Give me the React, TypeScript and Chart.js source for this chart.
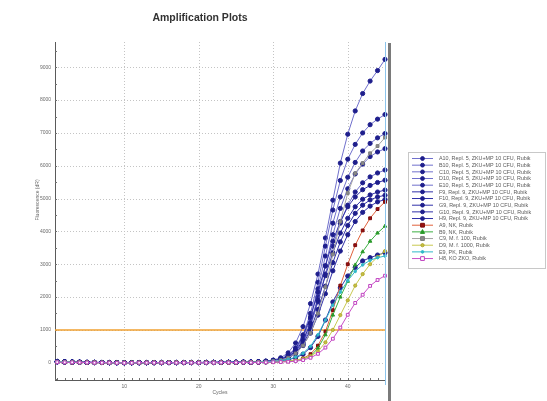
import React, { useEffect, useRef } from "react";
import { Chart, registerables } from "chart.js";

Chart.register(...registerables);

const cycles = [1, 2, 3, 4, 5, 6, 7, 8, 9, 10, 11, 12, 13, 14, 15, 16, 17, 18, 19, 20, 21, 22, 23, 24, 25, 26, 27, 28, 29, 30, 31, 32, 33, 34, 35, 36, 37, 38, 39, 40, 41, 42, 43, 44, 45];

const a10 = [40, 30, 20, 15, 10, 10, 5, 5, 0, 0, 0, 0, 0, 5, 5, 5, 0, 0, 5, 5, 5, 10, 10, 10, 15, 15, 20, 30, 50, 80, 150, 300, 600, 1100, 1800, 2700, 3800, 4950, 6080, 6960, 7670, 8200, 8580, 8900, 9240];
const b10 = [35, 25, 20, 15, 10, 5, 5, 5, 0, 0, 0, 5, 5, 0, 0, 5, 5, 5, 5, 5, 10, 10, 10, 10, 15, 15, 20, 30, 45, 70, 120, 230, 450, 850, 1500, 2450, 3550, 4650, 5550, 6200, 6650, 7000, 7250, 7420, 7560];
const c10 = [30, 25, 15, 10, 10, 5, 5, 0, 0, 0, 0, 0, 5, 5, 5, 0, 0, 5, 5, 5, 5, 10, 10, 10, 10, 15, 15, 25, 40, 60, 100, 190, 380, 750, 1350, 2250, 3250, 4250, 5050, 5650, 6100, 6450, 6680, 6850, 6980];
const d10 = [30, 20, 15, 10, 5, 5, 5, 0, 0, 0, 5, 5, 5, 0, 0, 0, 5, 5, 5, 5, 5, 5, 10, 10, 10, 10, 15, 20, 35, 55, 90, 170, 330, 650, 1200, 2000, 2950, 3900, 4700, 5300, 5750, 6050, 6280, 6420, 6520];
const e10 = [25, 20, 15, 10, 5, 5, 5, 0, 0, 0, 0, 0, 0, 5, 5, 5, 5, 5, 5, 5, 5, 10, 10, 10, 10, 10, 15, 20, 30, 50, 85, 160, 310, 600, 1100, 1850, 2700, 3550, 4250, 4800, 5200, 5480, 5660, 5780, 5870];
const f9 = [40, 30, 25, 20, 15, 10, 10, 5, 5, 5, 0, 0, 0, 0, 5, 5, 5, 5, 5, 5, 10, 10, 10, 15, 15, 20, 20, 25, 40, 65, 110, 210, 420, 820, 1400, 2150, 2950, 3700, 4300, 4750, 5050, 5270, 5400, 5490, 5560];
const f10 = [35, 30, 20, 15, 10, 10, 5, 5, 5, 0, 0, 0, 0, 5, 5, 5, 5, 5, 5, 5, 10, 10, 10, 10, 15, 15, 15, 20, 35, 55, 95, 180, 350, 680, 1200, 1900, 2650, 3350, 3950, 4400, 4750, 4980, 5110, 5200, 5260];
const g9 = [30, 25, 20, 15, 10, 5, 5, 5, 0, 0, 0, 0, 0, 0, 5, 5, 5, 5, 5, 5, 5, 10, 10, 10, 10, 15, 15, 20, 30, 50, 80, 150, 290, 560, 1000, 1620, 2330, 3050, 3680, 4180, 4550, 4800, 4960, 5050, 5100];
const g10 = [30, 20, 15, 10, 10, 5, 5, 0, 0, 0, 0, 5, 5, 5, 5, 5, 5, 5, 5, 5, 5, 5, 10, 10, 10, 10, 15, 20, 30, 45, 75, 140, 270, 520, 900, 1450, 2100, 2800, 3400, 3900, 4300, 4580, 4770, 4900, 4970];
const h9 = [25, 20, 15, 10, 5, 5, 5, 0, 0, 0, 0, 0, 0, 0, 5, 5, 5, 5, 5, 5, 5, 5, 5, 10, 10, 10, 10, 15, 25, 40, 60, 90, 150, 260, 460, 800, 1300, 1850, 2280, 2640, 2900, 3100, 3200, 3280, 3350];
const a9 = [20, 15, 10, 10, 5, 5, 0, 0, 0, 0, 0, 0, 0, 0, 0, 5, 5, 5, 5, 5, 5, 5, 5, 5, 5, 10, 10, 10, 15, 20, 30, 45, 70, 130, 260, 520, 950, 1600, 2350, 3000, 3580, 4030, 4400, 4680, 4900];
const b9 = [20, 15, 10, 5, 5, 5, 0, 0, 0, 0, 0, 0, 0, 0, 5, 5, 5, 5, 5, 5, 5, 5, 5, 5, 5, 10, 10, 10, 15, 20, 30, 45, 70, 110, 200, 440, 850, 1450, 2000, 2480, 2980, 3380, 3700, 3950, 4160];
const c9 = [30, 25, 15, 10, 10, 5, 5, 0, 0, 0, 0, 0, 5, 5, 5, 5, 5, 5, 5, 5, 5, 10, 10, 10, 10, 15, 15, 20, 30, 50, 80, 150, 280, 520, 900, 1500, 2300, 3300, 4300, 5170, 5770, 6080, 6380, 6600, 6860];
const d9 = [20, 15, 10, 10, 5, 5, 0, 0, 0, 0, 0, 0, 0, 5, 5, 5, 5, 5, 5, 5, 5, 5, 5, 5, 5, 10, 10, 10, 15, 20, 30, 45, 70, 120, 200, 340, 620, 1000, 1450, 1900, 2350, 2700, 3000, 3220, 3400];
const e9 = [25, 20, 15, 10, 5, 5, 5, 0, 0, 0, 0, 0, 0, 0, 5, 5, 5, 5, 5, 5, 5, 5, 5, 10, 10, 10, 10, 15, 25, 40, 60, 100, 170, 290, 500, 850, 1300, 1750, 2150, 2500, 2780, 2980, 3120, 3200, 3250];
const h8 = [15, 10, 10, 5, 5, 0, 0, 0, -5, -5, -5, 0, 0, 0, 0, 0, 0, 0, 0, 0, 0, 0, 5, 5, 5, 5, 5, 5, 10, 15, 20, 30, 45, 80, 150, 270, 460, 730, 1070, 1460, 1820, 2070, 2340, 2520, 2650];

const seriesNames = [
  "A10, Repl. 5, ZKU+MP 10 CFU, Rubik",
  "B10, Repl. 5, ZKU+MP 10 CFU, Rubik",
  "C10, Repl. 5, ZKU+MP 10 CFU, Rubik",
  "D10, Repl. 5, ZKU+MP 10 CFU, Rubik",
  "E10, Repl. 5, ZKU+MP 10 CFU, Rubik",
  "F9, Repl. 9, ZKU+MP 10 CFU, Rubik",
  "F10, Repl. 9, ZKU+MP 10 CFU, Rubik",
  "G9, Repl. 9, ZKU+MP 10 CFU, Rubik",
  "G10, Repl. 9, ZKU+MP 10 CFU, Rubik",
  "H9, Repl. 9, ZKU+MP 10 CFU, Rubik",
  "A9, NK, Rubik",
  "B9, NK, Rubik",
  "C9, M. f. 100, Rubik",
  "D9, M. f. 1000, Rubik",
  "E9, PK, Rubik",
  "H8, KO ZKO, Rubik",
];
const seriesValues = [a10, b10, c10, d10, e10, f9, f10, g9, g10, h9, a9, b9, c9, d9, e9, h8];

const yTickValues = [0, 1000, 2000, 3000, 4000, 5000, 6000, 7000, 8000, 9000];
const xTickLabels = [10, 20, 30, 40];
const thresholdValue = 1000;

const titleText = "Amplification Plots";
const xTitle = "Cycles";
const yTitle = "Fluorescence (dR)";

// styles
const lineColors = ["#7070cc", "#7070cc", "#7070cc", "#7070cc", "#7070cc", "#3030a8", "#3030a8", "#3030a8", "#3030a8", "#3030a8", "#e0603a", "#3cb043", "#a4a4a4", "#c8c850", "#30b8c8", "#c850c8"];
const markerFill = ["#1e1e8c", "#1e1e8c", "#1e1e8c", "#1e1e8c", "#1e1e8c", "#1e1e8c", "#1e1e8c", "#1e1e8c", "#1e1e8c", "#1e1e8c", "#9a1010", "#2a9a2a", "#8c8c8c", "#c8c040", "#30b8c8", "#ffffff"];
const markerBorder = ["#1e1e8c", "#1e1e8c", "#1e1e8c", "#1e1e8c", "#1e1e8c", "#1e1e8c", "#1e1e8c", "#1e1e8c", "#1e1e8c", "#1e1e8c", "#7a0a0a", "#2a9a2a", "#7c7c7c", "#b0a830", "#30b8c8", "#c040c0"];
const markerStyles = ["circle", "circle", "circle", "circle", "circle", "circle", "circle", "circle", "circle", "circle", "rect", "triangle", "rect", "circle", "circle", "rect"];
const markerRadius = [2.1, 2.1, 2.1, 2.1, 2.1, 2.1, 2.1, 2.1, 2.1, 2.1, 2.0, 2.0, 2.0, 1.6, 1.3, 2.0];

const FONT = "'Liberation Sans', Arial, sans-serif";

function drawMarker(ctx: CanvasRenderingContext2D, style: string, x: number, y: number, r: number, fill: string, stroke: string) {
  ctx.save();
  ctx.fillStyle = fill;
  ctx.strokeStyle = stroke;
  ctx.lineWidth = 1;
  ctx.beginPath();
  if (style === "circle") {
    ctx.arc(x, y, r, 0, Math.PI * 2);
  } else if (style === "rect") {
    ctx.rect(x - r, y - r, r * 2, r * 2);
  } else if (style === "triangle") {
    ctx.moveTo(x, y - r * 1.2);
    ctx.lineTo(x + r * 1.1, y + r * 0.8);
    ctx.lineTo(x - r * 1.1, y + r * 0.8);
    ctx.closePath();
  }
  ctx.fill();
  ctx.stroke();
  ctx.restore();
}

const extrasPlugin = {
  id: "extras",
  beforeDatasetsDraw(chart: any) {
    const ctx: CanvasRenderingContext2D = chart.ctx;
    const xs = chart.scales.x;
    const ys = chart.scales.y;
    const area = chart.chartArea;
    ctx.save();
    ctx.strokeStyle = "#c4c4c4";
    ctx.lineWidth = 1;
    ctx.setLineDash([1, 2]);
    for (const v of yTickValues) {
      const py = Math.round(ys.getPixelForValue(v)) + 0.5;
      ctx.beginPath();
      ctx.moveTo(area.left, py);
      ctx.lineTo(area.right, py);
      ctx.stroke();
    }
    for (const v of xTickLabels) {
      const px = Math.round(xs.getPixelForValue(v)) + 0.5;
      ctx.beginPath();
      ctx.moveTo(px, area.top);
      ctx.lineTo(px, area.bottom);
      ctx.stroke();
    }
    ctx.setLineDash([]);
    // minor ticks
    ctx.strokeStyle = "#707070";
    for (const c of cycles) {
      const px = Math.round(xs.getPixelForValue(c)) + 0.5;
      ctx.beginPath();
      ctx.moveTo(px, area.bottom);
      ctx.lineTo(px, area.bottom - 2);
      ctx.stroke();
    }
    for (let v = -500; v <= 9500; v += 500) {
      const py = Math.round(ys.getPixelForValue(v)) + 0.5;
      if (py < area.top || py > area.bottom) continue;
      ctx.beginPath();
      ctx.moveTo(area.left, py);
      ctx.lineTo(area.left + 2, py);
      ctx.stroke();
    }
    // threshold
    const ty = ys.getPixelForValue(thresholdValue);
    ctx.strokeStyle = "#f0a030";
    ctx.lineWidth = 1.5;
    ctx.beginPath();
    ctx.moveTo(area.left, ty);
    ctx.lineTo(area.right, ty);
    ctx.stroke();
    ctx.restore();
  },
  afterDraw(chart: any) {
    const ctx: CanvasRenderingContext2D = chart.ctx;
    const area = chart.chartArea;
    ctx.save();
    // right edge lines
    ctx.strokeStyle = "#8cc4ec";
    ctx.lineWidth = 1;
    ctx.beginPath();
    ctx.moveTo(area.right + 0.5, area.top);
    ctx.lineTo(area.right + 0.5, area.bottom + 5);
    ctx.stroke();
    ctx.fillStyle = "#7a7a7a";
    ctx.fillRect(area.right + 3, area.top + 1, 3, 401 - area.top);

    // title
    ctx.fillStyle = "#333333";
    ctx.font = `bold 10.5px ${FONT}`;
    ctx.textAlign = "center";
    ctx.textBaseline = "middle";
    ctx.fillText(titleText, 200, 18);

    // axis titles
    ctx.fillStyle = "#666666";
    ctx.font = `5px ${FONT}`;
    ctx.fillText(xTitle, (area.left + area.right) / 2, 393);
    ctx.save();
    ctx.translate(38, 200);
    ctx.rotate(-Math.PI / 2);
    ctx.fillText(yTitle, 0, 0);
    ctx.restore();

    // legend
    const bx = 408.5, by = 152.5, bw = 137, bh = 116;
    ctx.fillStyle = "#ffffff";
    ctx.fillRect(bx, by, bw, bh);
    ctx.strokeStyle = "#c8c8c8";
    ctx.lineWidth = 1;
    ctx.strokeRect(bx, by, bw, bh);
    ctx.font = `5.4px ${FONT}`;
    ctx.textAlign = "left";
    ctx.textBaseline = "middle";
    seriesNames.forEach((name, i) => {
      const yy = 158.5 + i * 6.67;
      ctx.strokeStyle = lineColors[i];
      ctx.lineWidth = 1;
      ctx.beginPath();
      ctx.moveTo(412, yy);
      ctx.lineTo(433, yy);
      ctx.stroke();
      drawMarker(ctx, markerStyles[i], 422.5, yy, Math.min(markerRadius[i], 1.9), markerFill[i], markerBorder[i]);
      ctx.fillStyle = "#5a5a5a";
      ctx.fillText(name, 439, yy + 0.3);
    });
    ctx.restore();
  },
};

export default function App() {
  const ref = useRef<HTMLCanvasElement | null>(null);

  useEffect(() => {
    if (!ref.current) return;
    const datasets = seriesValues.map((vals, i) => ({
      label: seriesNames[i],
      data: vals.map((v, j) => ({ x: cycles[j], y: v })),
      borderColor: lineColors[i],
      borderWidth: 1,
      backgroundColor: markerFill[i],
      pointBackgroundColor: markerFill[i],
      pointBorderColor: markerBorder[i],
      pointBorderWidth: 1,
      pointStyle: markerStyles[i],
      pointRadius: markerRadius[i],
      pointHoverRadius: markerRadius[i],
      tension: 0,
      fill: false,
      clip: false as any,
      order: seriesValues.length - i,
    }));

    const chart = new Chart(ref.current, {
      type: "line",
      data: { datasets },
      plugins: [extrasPlugin],
      options: {
        animation: false,
        responsive: false,
        devicePixelRatio: 1,
        layout: { padding: { top: 42, right: 162, bottom: 0, left: 0 } },
        plugins: {
          legend: { display: false },
          title: { display: false },
          tooltip: { enabled: false },
        },
        events: [],
        scales: {
          x: {
            type: "linear",
            min: 0.7,
            max: 45,
            grid: { display: false, drawTicks: false },
            border: { display: true, color: "#5a5a5a", width: 1 },
            afterBuildTicks: (scale: any) => {
              scale.ticks = xTickLabels.map((v) => ({ value: v }));
            },
            afterFit: (scale: any) => {
              scale.height = 21;
            },
            ticks: {
              autoSkip: false,
              maxRotation: 0,
              padding: 4,
              color: "#6a6a6a",
              font: { size: 5, family: FONT },
              callback: (v: any) => String(v),
            },
          },
          y: {
            type: "linear",
            min: -527,
            max: 9770,
            grid: { display: false, drawTicks: false },
            border: { display: true, color: "#5a5a5a", width: 1 },
            afterBuildTicks: (scale: any) => {
              scale.ticks = yTickValues.map((v) => ({ value: v }));
            },
            afterFit: (scale: any) => {
              scale.width = 55;
            },
            ticks: {
              padding: 4,
              color: "#6a6a6a",
              font: { size: 5, family: FONT },
              callback: (v: any) => String(v),
            },
          },
        },
      } as any,
    });
    return () => chart.destroy();
  }, []);

  return (
    <div style={{ position: "fixed", left: 0, top: 0, width: 547, height: 401, background: "#ffffff" }}>
      <canvas ref={ref} width={547} height={401} style={{ width: 547, height: 401, display: "block" }} />
    </div>
  );
}
